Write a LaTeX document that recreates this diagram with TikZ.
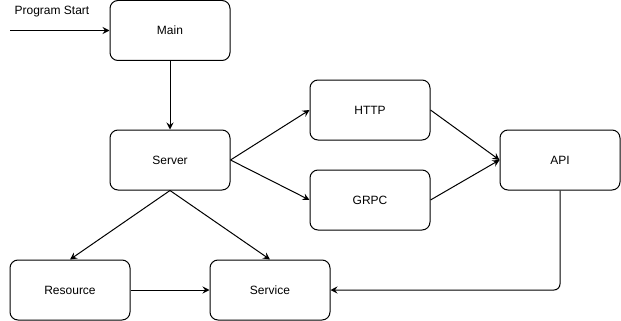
\documentclass[tikz,border=0pt]{standalone}
\usepackage{fontspec}
\setmainfont{Liberation Sans}
\usetikzlibrary{arrows.meta}
\begin{document}
\begin{tikzpicture}[x=1pt,y=-1pt,
  font=\fontsize{12}{14}\selectfont,
  block/.style={draw, line width=1pt, rounded corners=8pt, minimum width=120pt, minimum height=60pt, inner sep=0pt},
  link/.style={draw, line width=1pt, -{Stealth[length=7pt,width=7pt,inset=2.5pt]}}]
  \useasboundingbox (0,0) rectangle (621,321);
  % components
  \node[block] (main) at (170,30.5) {Main};
  \node[block] (server) at (170,160) {Server};
  \node[block] (http) at (370,110) {HTTP};
  \node[block] (grpc) at (370,200) {GRPC};
  \node[block] (api) at (560,160) {API};
  \node[block] (resource) at (70,290) {Resource};
  \node[block] (service) at (270,290) {Service};
  % entry point
  \node (startlbl) at (52,12) {Program Start};
  \coordinate (entry) at (10,30.5);
  \draw[link] (entry) -- (main.west);
  % flow
  \draw[link] (main.south) -- (server.north);
  \draw[link] (server.east) -- (http.west);
  \draw[link] (server.east) -- (grpc.west);
  \draw[link] (http.east) -- (api.west);
  \draw[link] (grpc.east) -- (api.west);
  \draw[link] (server.south) -- (resource.north);
  \draw[link] (server.south) -- (service.north);
  \draw[link] (resource.east) -- (service.west);
  \draw[link, rounded corners=6pt] (api.south) |- (service.east);
\end{tikzpicture}
\end{document}
